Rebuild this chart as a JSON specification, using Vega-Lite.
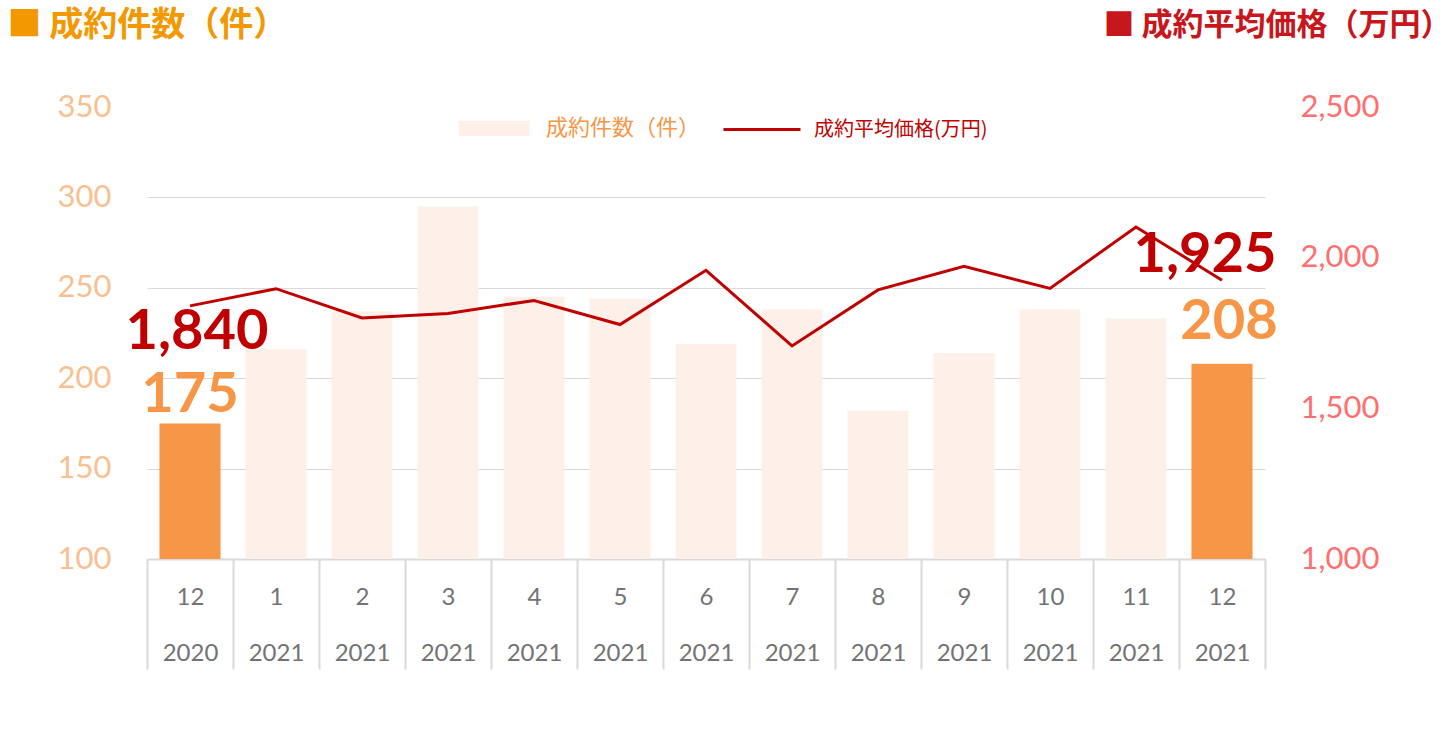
{
  "$schema": "https://vega.github.io/schema/vega-lite/v6.json",
  "autosize": "none",
  "width": 1118,
  "height": 452,
  "padding": {"left": 147, "top": 107, "right": 175, "bottom": 179},
  "background": "white",
  "config": {
    "view": {"stroke": null},
    "font": "Lato",
    "legend": {"padding": 0}
  },
  "data": {
    "values": [
      {"key": "12|2020", "count": 175, "price": 1840, "hl": true},
      {"key": "1|2021", "count": 216, "price": 1897, "hl": false},
      {"key": "2|2021", "count": 237, "price": 1800, "hl": false},
      {"key": "3|2021", "count": 295, "price": 1815, "hl": false},
      {"key": "4|2021", "count": 245, "price": 1858, "hl": false},
      {"key": "5|2021", "count": 244, "price": 1778, "hl": false},
      {"key": "6|2021", "count": 219, "price": 1958, "hl": false},
      {"key": "7|2021", "count": 238, "price": 1707, "hl": false},
      {"key": "8|2021", "count": 182, "price": 1893, "hl": false},
      {"key": "9|2021", "count": 214, "price": 1971, "hl": false},
      {"key": "10|2021", "count": 238, "price": 1898, "hl": false},
      {"key": "11|2021", "count": 233, "price": 2102, "hl": false},
      {"key": "12|2021", "count": 208, "price": 1925, "hl": true}
    ]
  },
  "encoding": {
    "x": {
      "field": "key",
      "type": "nominal",
      "sort": null,
      "scale": {"paddingInner": 0, "paddingOuter": 0},
      "axis": {
        "title": null,
        "labelAngle": 0,
        "labelExpr": "split(datum.label, '|')",
        "labelLineHeight": 56,
        "labelBaseline": "alphabetic",
        "labelPadding": -65,
        "labelFont": "Lato",
        "labelFontSize": 24,
        "labelColor": "#737373",
        "tickBand": "extent",
        "ticks": true,
        "tickSize": 110,
        "tickColor": "#D9D9D9",
        "tickWidth": 2,
        "domainColor": "#D9D9D9",
        "domainWidth": 2
      }
    }
  },
  "layer": [
    {
      "layer": [
        {
          "mark": {"type": "bar", "width": {"band": 0.71}},
          "encoding": {
            "y": {
              "field": "count",
              "type": "quantitative",
              "scale": {"domain": [100, 350], "nice": false, "zero": false},
              "axis": {
                "values": [100, 150, 200, 250, 300, 350],
                "format": "d",
                "domain": false,
                "ticks": false,
                "grid": true,
                "gridColor": "#D9D9D9",
                "gridWidth": 1,
                "gridOpacity": {"condition": {"test": "datum.value === 350", "value": 0}, "value": 1},
                "labelFont": "Lato",
                "labelFontSize": 31,
                "labelColor": "#FAC090",
                "labelPadding": 36,
                "title": "■ 成約件数（件）",
                "titleLimit": 500,
                "titleAngle": 0,
                "titleAlign": "left",
                "titleBaseline": "middle",
                "titleX": -140,
                "titleY": -82,
                "titleFont": "Noto Sans CJK JP",
                "titleFontSize": 34,
                "titleFontWeight": "bold",
                "titleColor": "#F39800"
              }
            },
            "y2": {"datum": 100},
            "color": {
              "condition": {"test": "datum.hl", "value": "#F79646"},
              "datum": "成約件数（件）",
              "type": "nominal",
              "scale": {
                "domain": ["成約件数（件）", "成約平均価格(万円)"],
                "range": ["#FDF0E9", "#C00000"]
              },
              "legend": {
                "orient": "none",
                "legendX": 307,
                "legendY": -19,
                "direction": "horizontal",
                "title": null,
                "symbolSize": 5929,
                "labelOffset": 12,
                "labelLimit": 400,
                "columnPadding": 16,
                "labelFont": "Noto Sans CJK JP",
                "labelFontSize": 22,
                "encode": {
                  "symbols": {
                    "update": {
                      "shape": {"signal": "datum.value === '成約件数（件）' ? 'M-0.88,-0.16H0.88V0.16H-0.88Z' : 'M-1,0H1'"},
                      "fill": {"signal": "datum.value === '成約件数（件）' ? '#FDF0E9' : 'transparent'"},
                      "stroke": {"signal": "datum.value === '成約件数（件）' ? 'transparent' : '#C00000'"},
                      "strokeWidth": {"value": 3},
                      "opacity": {"value": 1}
                    }
                  },
                  "labels": {
                    "update": {
                      "fill": {"signal": "datum.value === '成約件数（件）' ? '#F79646' : '#C00000'"},
                      "fontSize": {"signal": "datum.value === '成約件数（件）' ? 22 : 20"}
                    }
                  }
                }
              }
            }
          }
        },
        {
          "transform": [{"filter": "datum.key === '12|2020'"}],
          "mark": {"type": "text", "font": "Lato", "fontWeight": "bold", "fontSize": 56, "color": "#F79646", "align": "center", "baseline": "alphabetic", "dy": -11},
          "encoding": {
            "y": {"field": "count", "type": "quantitative", "scale": {"domain": [100, 350], "nice": false, "zero": false}},
            "text": {"field": "count", "type": "quantitative", "format": "d"}
          }
        },
        {
          "transform": [{"filter": "datum.key === '12|2021'"}],
          "mark": {"type": "text", "font": "Lato", "fontWeight": "bold", "fontSize": 56, "color": "#F79646", "align": "center", "baseline": "alphabetic", "dx": 7, "dy": -25},
          "encoding": {
            "y": {"field": "count", "type": "quantitative", "scale": {"domain": [100, 350], "nice": false, "zero": false}},
            "text": {"field": "count", "type": "quantitative", "format": "d"}
          }
        }
      ]
    },
    {
      "layer": [
        {
          "mark": {"type": "line", "strokeWidth": 3, "color": "#C00000"},
          "encoding": {
            "y": {
              "field": "price",
              "type": "quantitative",
              "scale": {"domain": [1000, 2500], "nice": false, "zero": false},
              "axis": {
                "orient": "right",
                "values": [1000, 1500, 2000, 2500],
                "format": ",.0f",
                "domain": false,
                "ticks": false,
                "grid": false,
                "labelFont": "Lato",
                "labelFontSize": 31,
                "labelColor": "#FF6F6F",
                "labelPadding": 35,
                "title": "■ 成約平均価格（万円）",
                "titleLimit": 500,
                "titleAngle": 0,
                "titleAlign": "right",
                "titleBaseline": "middle",
                "titleX": 186,
                "titleY": -82,
                "titleFont": "Noto Sans CJK JP",
                "titleFontSize": 31,
                "titleFontWeight": "bold",
                "titleColor": "#C8161D"
              }
            },
            "color": {"datum": "成約平均価格(万円)", "type": "nominal"}
          }
        },
        {
          "transform": [{"filter": "datum.key === '12|2020'"}],
          "mark": {"type": "text", "font": "Lato", "fontWeight": "bold", "fontSize": 56, "color": "#C00000", "align": "center", "baseline": "alphabetic", "dx": 7, "dy": 43},
          "encoding": {
            "y": {"field": "price", "type": "quantitative", "scale": {"domain": [1000, 2500], "nice": false, "zero": false}},
            "text": {"field": "price", "type": "quantitative", "format": ","}
          }
        },
        {
          "transform": [{"filter": "datum.key === '12|2021'"}],
          "mark": {"type": "text", "font": "Lato", "fontWeight": "bold", "fontSize": 56, "color": "#C00000", "align": "center", "baseline": "alphabetic", "dx": -17, "dy": -8},
          "encoding": {
            "y": {"field": "price", "type": "quantitative", "scale": {"domain": [1000, 2500], "nice": false, "zero": false}},
            "text": {"field": "price", "type": "quantitative", "format": ","}
          }
        }
      ]
    }
  ],
  "resolve": {"scale": {"y": "independent"}, "axis": {"y": "independent"}}
}
